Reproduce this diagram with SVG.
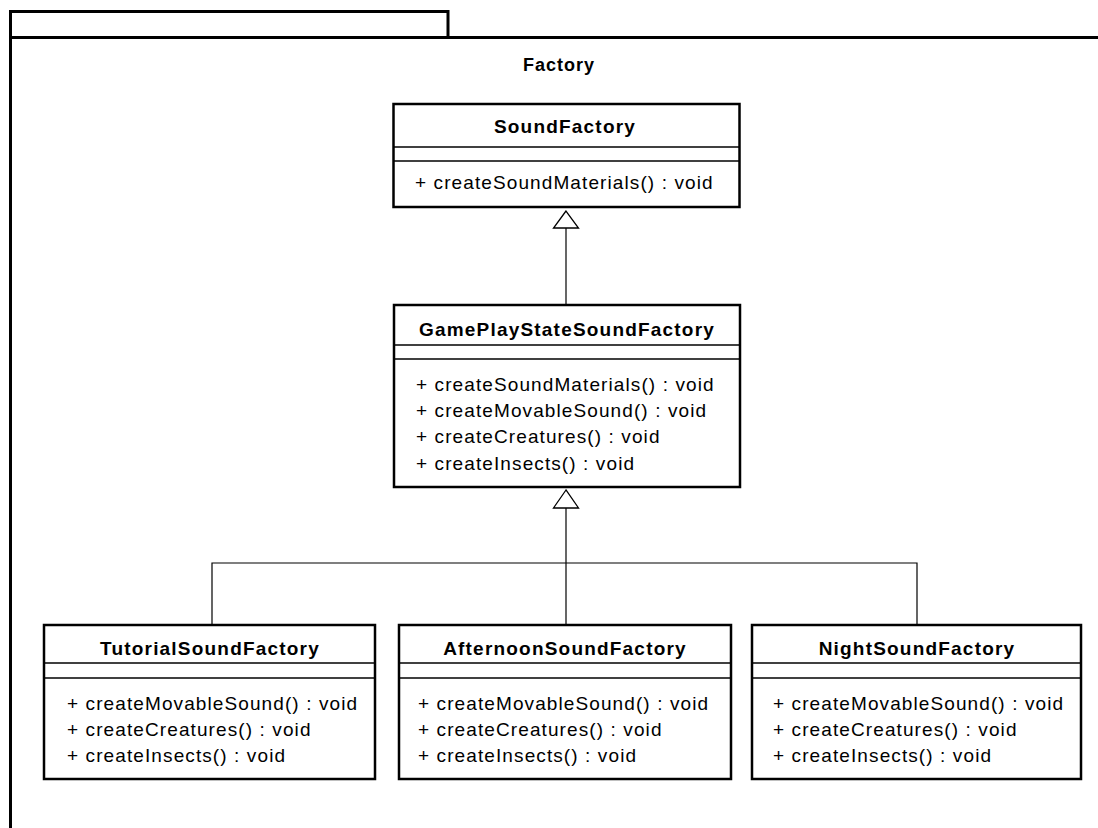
<svg xmlns="http://www.w3.org/2000/svg" width="1098" height="828" viewBox="0 0 1098 828">
  <style>
    .box { fill: #ffffff; stroke: #000000; stroke-width: 2.5; }
    .sep { stroke: #000000; stroke-width: 1.5; fill: none; }
    .pkg { fill: none; stroke: #000000; stroke-width: 3; }
    .edge { fill: none; stroke: #000000; stroke-width: 1.2; }
    .tri { fill: #ffffff; stroke: #000000; stroke-width: 1.3; }
    .name { font-family: "Liberation Sans", Arial, sans-serif; font-size: 19px; font-weight: bold; letter-spacing: 1.2px; text-anchor: middle; fill: #000; }
    .op { font-family: "Liberation Sans", Arial, sans-serif; font-size: 19px; letter-spacing: 1.1px; fill: #000; }
    .pkgname { font-family: "Liberation Sans", Arial, sans-serif; font-size: 18px; font-weight: bold; letter-spacing: 1px; text-anchor: middle; fill: #000; }
  </style>
  <rect width="1098" height="828" fill="#ffffff"/>

  <!-- package frame with its tab -->
  <g id="package-Factory">
    <path class="pkg" d="M10.5,37.5 V11.5 H448 V37.5"/>
    <path class="pkg" d="M10.5,830 V37.5 H1100"/>
    <text class="pkgname" x="559" y="71">Factory</text>
  </g>

  <!-- generalization connectors (hollow triangle at the parent) -->
  <g id="connectors">
    <path class="edge" d="M566,228 V305"/>
    <polygon class="tri" points="566,211 553.5,228 578.5,228"/>
    <path class="edge" d="M566,508 V624"/>
    <path class="edge" d="M212,624 V563 H917 V624"/>
    <polygon class="tri" points="566,490 553.5,508 578.5,508"/>
  </g>

  <g id="SoundFactory">
    <rect class="box" x="393.5" y="104" width="346" height="103"/>
    <line class="sep" x1="393.5" y1="147" x2="739.5" y2="147"/>
    <line class="sep" x1="393.5" y1="161" x2="739.5" y2="161"/>
    <text class="name" x="565" y="133">SoundFactory</text>
    <text class="op" x="415" y="189">+ createSoundMaterials() : void</text>
  </g>

  <g id="GamePlayStateSoundFactory">
    <rect class="box" x="394" y="305" width="346" height="182"/>
    <line class="sep" x1="394" y1="345" x2="740" y2="345"/>
    <line class="sep" x1="394" y1="359" x2="740" y2="359"/>
    <text class="name" x="567" y="336">GamePlayStateSoundFactory</text>
    <text class="op" x="416" y="390.5">+ createSoundMaterials() : void</text>
    <text class="op" x="416" y="417">+ createMovableSound() : void</text>
    <text class="op" x="416" y="443">+ createCreatures() : void</text>
    <text class="op" x="416" y="470">+ createInsects() : void</text>
  </g>

  <g id="TutorialSoundFactory">
    <rect class="box" x="44" y="625" width="331" height="154"/>
    <line class="sep" x1="44" y1="663" x2="375" y2="663"/>
    <line class="sep" x1="44" y1="678" x2="375" y2="678"/>
    <text class="name" x="210" y="655">TutorialSoundFactory</text>
    <text class="op" x="67" y="710">+ createMovableSound() : void</text>
    <text class="op" x="67" y="736">+ createCreatures() : void</text>
    <text class="op" x="67" y="761.5">+ createInsects() : void</text>
  </g>

  <g id="AfternoonSoundFactory">
    <rect class="box" x="399" y="625" width="332" height="154"/>
    <line class="sep" x1="399" y1="663" x2="731" y2="663"/>
    <line class="sep" x1="399" y1="678" x2="731" y2="678"/>
    <text class="name" x="565" y="655">AfternoonSoundFactory</text>
    <text class="op" x="418" y="710">+ createMovableSound() : void</text>
    <text class="op" x="418" y="736">+ createCreatures() : void</text>
    <text class="op" x="418" y="761.5">+ createInsects() : void</text>
  </g>

  <g id="NightSoundFactory">
    <rect class="box" x="752" y="625" width="329" height="154"/>
    <line class="sep" x1="752" y1="663" x2="1081" y2="663"/>
    <line class="sep" x1="752" y1="678" x2="1081" y2="678"/>
    <text class="name" x="917" y="655">NightSoundFactory</text>
    <text class="op" x="773" y="710">+ createMovableSound() : void</text>
    <text class="op" x="773" y="736">+ createCreatures() : void</text>
    <text class="op" x="773" y="761.5">+ createInsects() : void</text>
  </g>
</svg>
